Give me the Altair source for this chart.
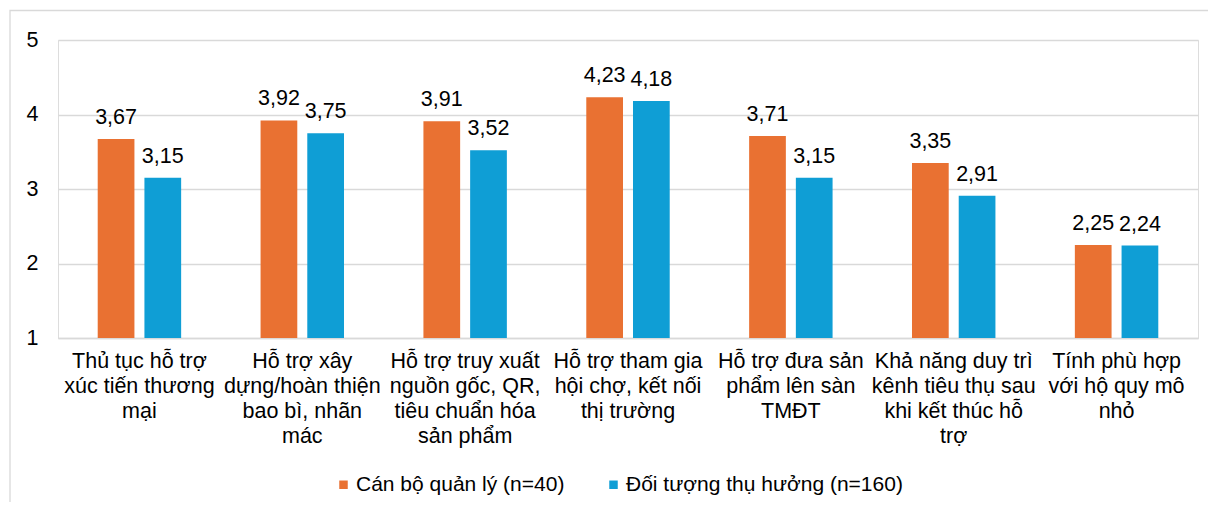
import altair as alt
import pandas as pd

categories = [
    "Thủ tục hỗ trợ|xúc tiến thương|mại",
    "Hỗ trợ xây|dựng/hoàn thiện|bao bì, nhãn|mác",
    "Hỗ trợ truy xuất|nguồn gốc, QR,|tiêu chuẩn hóa|sản phẩm",
    "Hỗ trợ tham gia|hội chợ, kết nối|thị trường",
    "Hỗ trợ đưa sản|phẩm lên sàn|TMĐT",
    "Khả năng duy trì|kênh tiêu thụ sau|khi kết thúc hỗ|trợ",
    "Tính phù hợp|với hộ quy mô|nhỏ",
]
series = ["Cán bộ quản lý (n=40)", "Đối tượng thụ hưởng (n=160)"]
can_bo = [3.67, 3.92, 3.91, 4.23, 3.71, 3.35, 2.25]
doi_tuong = [3.15, 3.75, 3.52, 4.18, 3.15, 2.91, 2.24]
colors = ["#E97132", "#0F9ED5"]

rows = []
for c, a, b in zip(categories, can_bo, doi_tuong):
    rows.append({"cat": c, "series": series[0], "value": a,
                 "label": f"{a:.2f}".replace(".", ",")})
    rows.append({"cat": c, "series": series[1], "value": b,
                 "label": f"{b:.2f}".replace(".", ",")})
df = pd.DataFrame(rows)

FONT = "Liberation Sans"
W, H = 1140, 298

x_enc = alt.X("cat:N", sort=categories,
              scale=alt.Scale(paddingInner=0, paddingOuter=0),
              axis=alt.Axis(labelAngle=0, title=None, ticks=False, grid=False,
                            domain=True, domainColor="#d9d9d9", domainWidth=1.5,
                            labelFontSize=21.5, labelLineHeight=25, labelPadding=12,
                            labelLimit=0, labelColor="#000000", labelFont=FONT,
                            labelBaseline="top",
                            labelExpr="split(datum.label, '|')"))
xoff_enc = alt.XOffset("series:N", sort=series,
                       scale=alt.Scale(domain=series, paddingInner=0.214, paddingOuter=0.85))
y_enc = alt.Y("value:Q",
              scale=alt.Scale(domain=[1, 5], zero=False, nice=False),
              axis=alt.Axis(values=[1, 2, 3, 4, 5], format="d", title=None, ticks=False,
                            domain=False, grid=True, gridColor="#d9d9d9", gridWidth=1.5,
                            labelFontSize=21.5, labelPadding=20, labelColor="#000000",
                            labelFont=FONT))

bars = alt.Chart(df).mark_bar().encode(
    x=x_enc,
    xOffset=xoff_enc,
    y=y_enc,
    y2=alt.datum(1),
    color=alt.Color("series:N", sort=series,
                    scale=alt.Scale(domain=series, range=colors),
                    legend=alt.Legend(title=None, orient="none", legendX=275, legendY=434,
                                      direction="horizontal", symbolType="square",
                                      symbolSize=72, symbolStrokeWidth=0,
                                      labelFontSize=21, labelFont=FONT, labelLimit=0,
                                      labelColor="#000000", labelOffset=2,
                                      columnPadding=38, padding=0)),
)

texts = alt.Chart(df).mark_text(baseline="alphabetic", dy=-15, fontSize=21.5,
                                font=FONT, color="#000000").encode(
    x=alt.X("cat:N", sort=categories),
    xOffset=alt.XOffset("series:N", sort=series),
    y=alt.Y("value:Q"),
    text="label:N",
)

border = alt.Chart(pd.DataFrame({"a": [0]})).mark_rect(
    fill="transparent", stroke="#d9d9d9", strokeWidth=1.3
).encode(
    x=alt.value(-48), x2=alt.value(1160),
    y=alt.value(-29.5), y2=alt.value(480),
)

chart = alt.layer(border, bars, texts).properties(
    width=W, height=H,
    autosize=alt.AutoSizeParams(type="none"),
    padding={"left": 50, "top": 32, "right": 10, "bottom": 164},
).configure_view(stroke=None).configure(background="white")

chart.save("out.html", embed_options={"renderer": "svg", "actions": False})
